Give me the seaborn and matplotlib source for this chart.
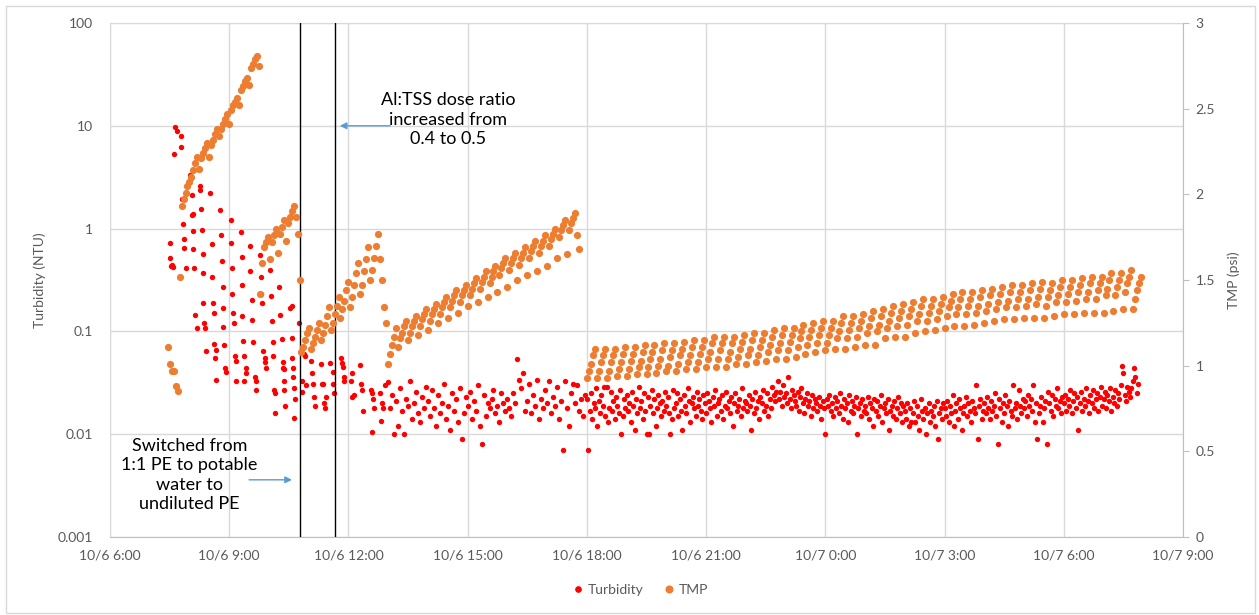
import matplotlib
matplotlib.use("Agg")
import matplotlib.pyplot as plt
import matplotlib.ticker as mticker
import matplotlib.dates as mdates
from matplotlib.lines import Line2D
from matplotlib.patches import Rectangle
import pandas as pd
import seaborn as sns

DAY = pd.Timestamp("2019-10-06")

# ---------------- data ----------------
# Turbidity, sparse early period (hours after 10/6 0:00, NTU)
turb_early_hours = [
    7.51, 7.51, 7.53, 7.56, 7.59, 7.61, 7.64, 7.68, 7.78, 7.79, 7.81, 7.84, 7.86, 7.87, 7.91,
    8.01, 8.04, 8.06, 8.09, 8.07, 8.09, 8.10, 8.11, 8.14, 8.19, 8.26, 8.27, 8.29, 8.31, 8.34,
    8.34, 8.35, 8.37, 8.39, 8.42, 8.52, 8.57, 8.57, 8.59, 8.62, 8.62, 8.64, 8.67, 8.67, 8.77,
    8.79, 8.82, 8.84, 8.84, 8.85, 8.87, 8.89, 8.92, 9.04, 9.04, 9.07, 9.07, 9.10, 9.11, 9.15,
    9.16, 9.17, 9.30, 9.32, 9.32, 9.33, 9.35, 9.36, 9.37, 9.42, 9.43, 9.52, 9.53, 9.57, 9.58,
    9.60, 9.65, 9.67, 9.68, 9.77, 9.80, 9.81, 9.82, 9.85, 9.90, 9.91, 9.92, 10.03, 10.04, 10.08,
    10.09, 10.10, 10.13, 10.15, 10.16, 10.25, 10.28, 10.33, 10.35, 10.36, 10.37, 10.38, 10.39, 10.40, 10.53,
    10.58, 10.58, 10.59, 10.60, 10.61, 10.63, 10.64, 10.66, 10.76, 10.83, 10.84, 10.88, 10.91, 10.92, 11.06,
    11.08, 11.11, 11.13, 11.16, 11.31, 11.33, 11.36, 11.38, 11.41, 11.43, 11.54, 11.61, 11.62, 11.63, 11.81,
    11.84, 11.86, 11.89, 11.90, 12.07, 12.09, 12.10, 12.14, 12.29, 12.32, 12.34, 12.37, 12.57, 12.59, 12.60,
    12.62, 12.64, 12.79, 12.82, 12.84, 12.86, 12.92,
]
turb_early_ntu = [
    0.73, 0.52, 0.43, 0.44, 0.42, 5.3, 9.8, 9.0, 8.0, 6.2, 1.95, 1.1, 0.80, 0.65, 0.41,
    3.3, 3.1, 2.1, 1.4, 1.35, 0.95, 0.63, 0.41, 0.146, 0.107, 2.6, 2.4, 1.55, 0.97, 0.57,
    0.37, 0.19, 0.12, 0.107, 0.064, 2.2, 0.71, 0.34, 0.19, 0.15, 0.076, 0.055, 0.066, 0.034, 1.5,
    0.86, 0.48, 0.27, 0.17, 0.11, 0.074, 0.044, 0.040, 1.2, 0.72, 0.41, 0.23, 0.15, 0.12, 0.058,
    0.052, 0.033, 0.93, 0.53, 0.28, 0.14, 0.080, 0.058, 0.033, 0.044, 0.039, 0.68, 0.39, 0.20, 0.128,
    0.078, 0.036, 0.033, 0.027, 0.55, 0.34, 0.23, 0.19, 0.064, 0.055, 0.050, 0.044, 0.40, 0.22, 0.125,
    0.078, 0.057, 0.027, 0.025, 0.016, 0.27, 0.146, 0.085, 0.050, 0.044, 0.027, 0.043, 0.033, 0.019, 0.17,
    0.175, 0.087, 0.055, 0.044, 0.036, 0.028, 0.0143, 0.022, 0.12, 0.033, 0.026, 0.060, 0.058, 0.030, 0.051,
    0.039, 0.031, 0.023, 0.019, 0.048, 0.031, 0.031, 0.020, 0.018, 0.023, 0.049, 0.040, 0.031, 0.025, 0.055,
    0.049, 0.045, 0.036, 0.033, 0.033, 0.039, 0.023, 0.024, 0.047, 0.031, 0.027, 0.017, 0.027, 0.025, 0.0105,
    0.022, 0.018, 0.025, 0.0134, 0.020, 0.018, 0.030,
]

# Turbidity, afternoon 13:00-17:57, 3-min logging, in mNTU
turb_pm_start = "13:00"
turb_pm_mntu = [
    32, 18, 24, 10, 21, 12, 28, 17, 10, 22, 19, 33, 14, 20, 26, 16, 13, 23, 18, 29,
    21, 15, 27, 18, 12, 24, 16, 20, 31, 14, 19, 11, 25, 17, 22, 13, 28, 9, 16, 23,
    19, 26, 14, 21, 17, 30, 12, 8, 24, 15, 20, 18, 22, 27, 16, 19, 13, 25, 20, 17,
    22, 18, 15, 25, 20, 54, 34, 28, 39, 17, 21, 31, 16, 24, 19, 34, 14, 22, 18, 27,
    20, 33, 16, 23, 19, 29, 14, 21, 7, 33, 18, 12, 25, 31, 20, 30, 17, 22, 15, 24,
]
# Turbidity, 18:00 to 7:52 next day, 2-min logging, in mNTU
turb_night_start = "18:00"
turb_night_mntu = [
    22, 7, 17, 25, 14, 20, 18, 28, 12, 21, 16, 24, 19, 29, 15, 29, 13, 18, 26, 17, 21, 14, 23, 19, 16, 27, 10, 15, 22, 18,
    24, 17, 20, 13, 26, 19, 11, 22, 16, 29, 18, 21, 14, 25, 17, 10, 23, 10, 19, 27, 16, 22, 12, 18, 24, 20, 15, 21, 17, 26,
    19, 23, 16, 10, 14, 27, 18, 20, 25, 15, 22, 17, 11, 24, 19, 16, 28, 21, 13, 20, 23, 18, 15, 26, 19, 22, 17, 14, 24, 20,
    16, 25, 21, 18, 13, 23, 19, 27, 15, 20, 22, 17, 24, 14, 19, 26, 18, 21, 16, 23, 12, 20, 25, 17, 19, 22, 15, 28, 18, 21,
    20, 17, 24, 19, 11, 22, 16, 26, 18, 21, 14, 23, 20, 27, 17, 19, 25, 15, 22, 18, 29, 24, 21, 26, 33, 22, 26, 19, 30, 23,
    25, 20, 36, 22, 18, 27, 24, 21, 19, 26, 17, 23, 28, 20, 16, 22, 25, 19, 21, 15, 24, 18, 22, 20, 17, 23, 19, 14, 21, 18,
    10, 22, 19, 24, 17, 20, 15, 23, 18, 21, 16, 25, 19, 14, 22, 18, 20, 13, 24, 17, 21, 16, 19, 23, 10, 18, 20, 15, 22, 17,
    19, 16, 23, 14, 20, 18, 12, 22, 17, 21, 15, 19, 24, 13, 18, 20, 16, 22, 11, 17, 19, 15, 21, 14, 18, 23, 16, 20, 13, 19,
    17, 14, 20, 12, 18, 13, 16, 21, 13, 19, 15, 11, 22, 17, 14, 18, 10, 16, 20, 13, 17, 15, 19, 12, 21, 9, 16, 18, 14, 20,
    18, 15, 21, 13, 19, 16, 24, 12, 17, 20, 14, 22, 18, 11, 16, 19, 23, 15, 20, 17, 13, 21, 18, 16, 30, 9, 19, 22, 14, 17,
    20, 16, 23, 18, 14, 21, 17, 19, 25, 15, 8, 22, 18, 13, 20, 16, 24, 19, 12, 21, 17, 15, 30, 18, 20, 14, 27, 19, 16, 22,
    18, 21, 15, 24, 19, 22, 17, 30, 13, 20, 9, 16, 19, 23, 13, 18, 21, 8, 26, 20, 17, 24, 15, 22, 19, 28, 18, 21, 16, 23,
    20, 24, 17, 22, 19, 27, 16, 21, 25, 18, 23, 11, 20, 26, 17, 22, 19, 28, 21, 16, 24, 20, 27, 18, 22, 25, 17, 23, 29, 19,
    22, 26, 18, 24, 21, 28, 17, 23, 20, 27, 19, 25, 22, 30, 46, 39, 24, 21, 29, 26, 23, 28, 33, 44, 36, 25, 31,
]

# TMP (psi), 3-min logging, one list per run segment
tmp_seg1_start = "07:27"
tmp_seg1 = [
    1.11, 1.01, 0.97, 0.97, 0.88, 0.85, 1.52,
    1.93, 1.97, 2.01, 2.05,
    2.07, 2.10, 2.14, 2.18, 2.22,
    2.15, 2.21, 2.24, 2.27, 2.30,
    2.22, 2.29, 2.32, 2.35, 2.38,
    2.34, 2.38, 2.41, 2.44, 2.47,
    2.41, 2.49, 2.52, 2.54, 2.56,
    2.52, 2.61, 2.63, 2.66, 2.68,
    2.64, 2.74, 2.76, 2.79, 2.81,
    2.75,
]
tmp_seg2_start = "09:47"
tmp_seg2 = [
    1.42, 1.60, 1.69, 1.72, 1.75,
    1.62, 1.72, 1.76, 1.80,
    1.66, 1.77, 1.81, 1.85,
    1.73, 1.83, 1.87, 1.90, 1.93,
    1.87, 1.77, 1.50,
]
tmp_seg3_start = "10:48"
tmp_seg3 = [
    1.08, 1.11, 1.15, 1.19, 1.22,
    1.10, 1.13, 1.17, 1.21, 1.25,
    1.15, 1.19, 1.24, 1.29, 1.34,
    1.21, 1.25, 1.30, 1.35, 1.40,
    1.28, 1.33, 1.38, 1.44, 1.49,
    1.34, 1.40, 1.47, 1.54, 1.60,
    1.42, 1.47, 1.55, 1.62, 1.69,
    1.50, 1.56, 1.63, 1.70, 1.77,
    1.62, 1.50, 1.34, 1.25,
]
tmp_seg4_start = "13:00"
tmp_seg4 = [
    1.01, 1.07, 1.12, 1.17, 1.22,
    1.11, 1.16, 1.19, 1.23, 1.26,
    1.15, 1.19, 1.23, 1.26, 1.29,
    1.18, 1.23, 1.27, 1.30, 1.33,
    1.21, 1.26, 1.30, 1.33, 1.36,
    1.25, 1.30, 1.34, 1.37, 1.40,
    1.28, 1.34, 1.38, 1.41, 1.44,
    1.31, 1.37, 1.41, 1.44, 1.47,
    1.35, 1.41, 1.45, 1.48, 1.51,
    1.37, 1.45, 1.49, 1.52, 1.55,
    1.40, 1.48, 1.52, 1.55, 1.58,
    1.43, 1.53, 1.57, 1.60, 1.63,
    1.46, 1.56, 1.60, 1.63, 1.66,
    1.50, 1.59, 1.63, 1.66, 1.69,
    1.53, 1.63, 1.67, 1.70, 1.73,
    1.55, 1.66, 1.70, 1.73, 1.76,
    1.58, 1.70, 1.74, 1.77, 1.80,
    1.63, 1.75, 1.79, 1.82, 1.85,
    1.65, 1.79, 1.83, 1.86, 1.89,
    1.76, 1.68,
]
tmp_seg5_start = "18:00"
tmp_seg5 = [
    0.93, 0.97, 1.01, 1.06, 1.10,  0.93, 0.97, 1.02, 1.06, 1.10,  0.93, 0.97, 1.02, 1.06, 1.10,
    0.94, 0.98, 1.02, 1.07, 1.11,  0.94, 0.98, 1.03, 1.07, 1.11,  0.95, 0.99, 1.03, 1.08, 1.12,
    0.95, 0.99, 1.04, 1.08, 1.12,  0.96, 1.00, 1.04, 1.09, 1.13,  0.97, 1.00, 1.05, 1.09, 1.13,
    0.97, 1.01, 1.06, 1.10, 1.14,  0.98, 1.02, 1.06, 1.11, 1.15,  0.98, 1.02, 1.07, 1.11, 1.15,
    0.99, 1.04, 1.08, 1.13, 1.17,  0.99, 1.04, 1.09, 1.13, 1.17,  0.99, 1.04, 1.08, 1.13, 1.17,
    1.01, 1.05, 1.10, 1.14, 1.18,  1.01, 1.06, 1.10, 1.15, 1.19,  1.02, 1.06, 1.11, 1.15, 1.19,
    1.03, 1.08, 1.12, 1.17, 1.21,  1.04, 1.09, 1.13, 1.18, 1.22,  1.04, 1.09, 1.14, 1.18, 1.22,
    1.05, 1.11, 1.16, 1.20, 1.24,  1.07, 1.12, 1.17, 1.21, 1.25,  1.08, 1.13, 1.18, 1.22, 1.26,
    1.09, 1.13, 1.18, 1.22, 1.26,  1.10, 1.16, 1.20, 1.25, 1.29,  1.10, 1.16, 1.21, 1.25, 1.29,
    1.11, 1.17, 1.22, 1.26, 1.30,  1.12, 1.19, 1.23, 1.28, 1.32,  1.12, 1.20, 1.24, 1.29, 1.33,
    1.16, 1.22, 1.26, 1.31, 1.35,  1.17, 1.23, 1.28, 1.32, 1.36,  1.17, 1.24, 1.29, 1.33, 1.37,
    1.19, 1.26, 1.30, 1.35, 1.39,  1.20, 1.26, 1.31, 1.35, 1.39,  1.21, 1.27, 1.32, 1.36, 1.40,
    1.22, 1.29, 1.34, 1.38, 1.42,  1.23, 1.30, 1.34, 1.39, 1.43,  1.23, 1.30, 1.35, 1.39, 1.43,
    1.24, 1.31, 1.35, 1.40, 1.44,  1.25, 1.32, 1.36, 1.41, 1.45,  1.26, 1.33, 1.37, 1.42, 1.46,
    1.27, 1.34, 1.38, 1.43, 1.47,  1.27, 1.34, 1.39, 1.43, 1.47,  1.28, 1.35, 1.39, 1.44, 1.48,
    1.28, 1.36, 1.40, 1.45, 1.49,  1.28, 1.35, 1.40, 1.44, 1.48,  1.29, 1.37, 1.41, 1.46, 1.50,
    1.30, 1.37, 1.42, 1.46, 1.50,  1.30, 1.38, 1.43, 1.47, 1.51,  1.31, 1.39, 1.43, 1.48, 1.52,
    1.31, 1.39, 1.44, 1.48, 1.52,  1.31, 1.41, 1.45, 1.50, 1.54,  1.32, 1.41, 1.46, 1.50, 1.54,
    1.33, 1.43, 1.48, 1.52, 1.56,  1.33, 1.39, 1.44, 1.48, 1.52,
]

x_tick_hours = [6, 9, 12, 15, 18, 21, 24, 27, 30, 33]
left_ticks = [0.001, 0.01, 0.1, 1, 10, 100]
right_ticks = [0, 0.5, 1, 1.5, 2, 2.5, 3]
event_lines = ["10:47", "11:40"]


# ---------------- helpers ----------------
def at(hhmm):
    h, m = hhmm.split(":")
    return DAY + pd.Timedelta(hours=int(h), minutes=int(m))


def logged(start, values, step, scale=1.0):
    t = pd.date_range(at(start), periods=len(values), freq=step)
    return pd.DataFrame({"time": t, "value": [v * scale for v in values]})


turb_df = pd.concat([
    pd.DataFrame({"time": DAY + pd.to_timedelta(turb_early_hours, unit="h"),
                  "value": turb_early_ntu}),
    logged(turb_pm_start, turb_pm_mntu, "3min", 0.001),
    logged(turb_night_start, turb_night_mntu, "2min", 0.001),
], ignore_index=True)

tmp_df = pd.concat([
    logged(tmp_seg1_start, tmp_seg1, "3min"),
    logged(tmp_seg2_start, tmp_seg2, "3min"),
    logged(tmp_seg3_start, tmp_seg3, "3min"),
    logged(tmp_seg4_start, tmp_seg4, "3min"),
    logged(tmp_seg5_start, tmp_seg5, "3min"),
], ignore_index=True)

# ---------------- style ----------------
sns.set_style("white")
plt.rcParams["font.family"] = ["Lato", "DejaVu Sans"]
GREY_TXT = "#595959"
GRID = "#D9D9D9"
AXIS = "#BFBFBF"
RED = "#FF0000"
ORANGE = "#ED7D31"
BLUE = "#5B9BD5"

W, H = 1259, 615
fig = plt.figure(figsize=(W / 100, H / 100), dpi=100)
L, R, T, B = 110, 1183, 23, 537
ax = fig.add_axes([L / W, 1 - B / H, (R - L) / W, (B - T) / H])

sns.scatterplot(data=turb_df, x="time", y="value", ax=ax, color=RED, s=15,
                linewidth=0, legend=False, zorder=3)
ax.set_yscale("log")
ax.set_ylim(0.001, 100)
ax.set_yticks(left_ticks)
ax.yaxis.set_minor_locator(mticker.NullLocator())
ax.yaxis.set_major_formatter(mticker.FuncFormatter(lambda v, p: f"{v:g}"))

xt = [DAY + pd.Timedelta(hours=h) for h in x_tick_hours]
ax.set_xlim(xt[0], xt[-1])
ax.set_xticks(xt)


def fmt_x(v, p):
    d = mdates.num2date(v)
    return f"{d.month}/{d.day} {d.hour}:{d.minute:02d}"


ax.xaxis.set_major_formatter(mticker.FuncFormatter(fmt_x))
ax.grid(True, which="major", color=GRID, lw=1)
ax.set_axisbelow(True)
ax.set_xlabel("")
ax.set_ylabel("")
ax.tick_params(axis="both", length=0, labelsize=10, labelcolor=GREY_TXT)
ax.tick_params(axis="x", pad=9)
ax.tick_params(axis="y", pad=12)
for s in ["top", "left"]:
    ax.spines[s].set_color(GRID)
ax.spines["bottom"].set_color(AXIS)
ax.spines["right"].set_visible(False)

for ev in event_lines:
    ax.axvline(at(ev), color="black", lw=1, zorder=4)

ax2 = ax.twinx()
sns.scatterplot(data=tmp_df, x="time", y="value", ax=ax2, color=ORANGE, s=27,
                linewidth=0, legend=False, zorder=3)
ax2.set_ylim(0, 3)
ax2.set_yticks(right_ticks)
ax2.yaxis.set_major_formatter(mticker.FuncFormatter(lambda v, p: f"{v:g}"))
ax2.set_xlim(xt[0], xt[-1])
ax2.set_ylabel("")
ax2.set_xlabel("")
ax2.grid(False)
ax2.tick_params(axis="y", length=4, color=AXIS, labelsize=10, labelcolor=GREY_TXT, pad=5)
for s in ["top", "left", "bottom"]:
    ax2.spines[s].set_visible(False)
ax2.spines["right"].set_color(AXIS)

# annotations
ann_kw = dict(fontsize=13, color="black", ha="center", va="center", linespacing=1.25)
ax.text(DAY + pd.Timedelta(hours=14.5), 11.5,
        "Al:TSS dose ratio\nincreased from\n0.4 to 0.5", **ann_kw)
ax.text(DAY + pd.Timedelta(hours=8.0), 0.0040,
        "Switched from\n1:1 PE to potable\nwater to\nundiluted PE", **ann_kw)
arrow = dict(arrowstyle="-|>", color=BLUE, lw=1, mutation_scale=10, shrinkA=0, shrinkB=0)
ax.annotate("", xy=(DAY + pd.Timedelta(hours=11.78), 10),
            xytext=(DAY + pd.Timedelta(hours=13.05), 10), arrowprops=arrow)
ax.annotate("", xy=(DAY + pd.Timedelta(hours=10.58), 0.0036),
            xytext=(DAY + pd.Timedelta(hours=9.50), 0.0036), arrowprops=arrow)

# axis titles
fig.text(40 / W, 1 - 280 / H, "Turbidity (NTU)", rotation=90, ha="center", va="center",
         fontsize=10, color=GREY_TXT)
fig.text(1234 / W, 1 - 280 / H, "TMP (psi)", rotation=90, ha="center", va="center",
         fontsize=10, color=GREY_TXT)

# legend
handles = [Line2D([], [], ls="", marker="o", markersize=3.8, color=RED),
           Line2D([], [], ls="", marker="o", markersize=4.8, color=ORANGE)]
leg = fig.legend(handles, ["Turbidity", "TMP"], loc="center", bbox_to_anchor=(639 / W, 1 - 590 / H),
                 ncol=2, frameon=False, fontsize=10, handletextpad=0.1, columnspacing=1.2,
                 handlelength=1.2)
for t in leg.get_texts():
    t.set_color(GREY_TXT)

fig.patches.append(Rectangle((6 / W, 2 / H), 1 - 10 / W, 1 - 8 / H, transform=fig.transFigure,
                             fill=False, edgecolor=GRID, lw=1))

fig.savefig("out.png", dpi=100)
